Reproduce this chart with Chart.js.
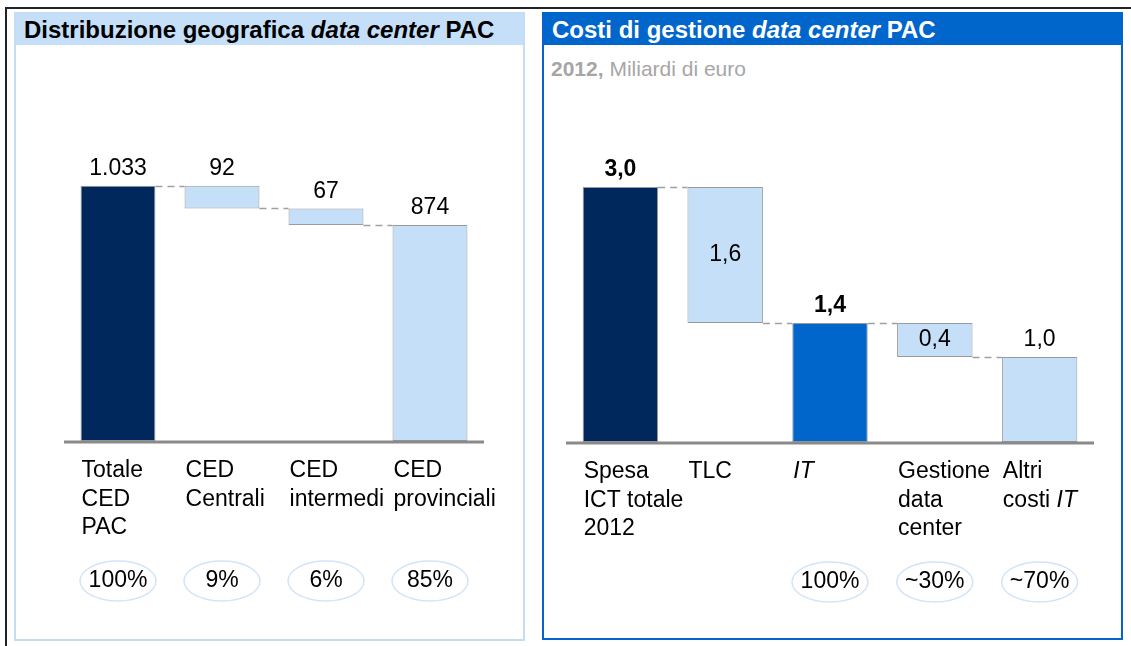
<!DOCTYPE html>
<html>
<head>
<meta charset="utf-8">
<script src="https://cdn.jsdelivr.net/npm/chart.js@4/dist/chart.umd.min.js"></script>
<style>
  body { margin: 0; width: 1131px; height: 646px; background: #fff; position: relative; overflow: hidden;
         font-family: "Liberation Sans", Arial, sans-serif; }
  .frame { position: absolute; left: 5px; top: 7px; right: -10px; bottom: -10px;
           border-top: 2px solid #222; border-left: 2px solid #222; }
  .panel { position: absolute; box-sizing: border-box; }
  #geoPanel { left: 14px; top: 12px; width: 511px; height: 629px; border: 2px solid #c6dcf5; }
  #costPanel { left: 542px; top: 12px; width: 581px; height: 628px; border: 2px solid #0066cc; }
  .head { position: absolute; left: 0; top: 0; right: 0; height: 31px; font-weight: bold; font-size: 24px;
          line-height: 31px; padding-left: 8px; letter-spacing: 0; white-space: nowrap; }
  #geoPanel .head { background: #c6dff8; color: #000; }
  #costPanel .head { background: #0066cc; color: #fff; }
  .sub { position: absolute; left: 7px; top: 43px; font-size: 21px; color: #a6a6a6; }
  canvas { position: absolute; }
</style>
</head>
<body>
<div class="frame"></div>
<div class="panel" id="geoPanel">
  <div class="head">Distribuzione geografica <i>data center</i> PAC</div>
</div>
<div class="panel" id="costPanel">
  <div class="head">Costi di gestione <i>data center</i> PAC</div>
  <div class="sub"><b>2012,</b> Miliardi di euro</div>
</div>
<canvas id="geoChart" width="511" height="595" style="left:14px;top:45px"></canvas>
<canvas id="costChart" width="580" height="594" style="left:542px;top:45px"></canvas>

<script>
// ---- data ----
const geoCategories = [["Totale", "CED", "PAC"], ["CED", "Centrali"], ["CED", "intermedi"], ["CED", "provinciali"]];
const geoValues = [1033, 92, 67, 874];
const geoKinds = ["total", "step", "step", "total"];
const geoShares = ["100%", "9%", "6%", "85%"];

const costCategories = [["Spesa", "ICT totale", "2012"], ["TLC"], ["*IT*"], ["Gestione", "data", "center"], ["Altri", "costi *IT*"]];
const costValues = [3.0, 1.6, 1.4, 0.4, 1.0];
const costKinds = ["total", "step", "total", "step", "total"];
const costShares = [null, null, "100%", "~30%", "~70%"];

// styles
const geoColors = ["#00285c", "#c6dff8", "#c6dff8", "#c6dff8"];
const costColors = ["#00285c", "#c6dff8", "#0066cc", "#c6dff8", "#c6dff8"];
const costLabelPos = ["above", "inside", "above", "inside", "above"];
const costLabelBold = [true, false, true, false, false];

const FONT = '"Liberation Sans", Arial, sans-serif';

// turn values into floating [from, to] ranges
function waterfall(values, kinds) {
  let level = 0;
  return values.map((v, i) => {
    if (kinds[i] === "total") { level = v; return [0, v]; }
    const r = [level - v, level];
    level -= v;
    return r;
  });
}

function fmtThousands(v) {
  return String(v).replace(/\B(?=(\d{3})+(?!\d))/g, ".");
}
function fmtDecimal(v) {
  return v.toFixed(1).replace(".", ",");
}

function drawRich(ctx, text, x, y, size) {
  const parts = text.split("*");
  let cx = x;
  parts.forEach((p, k) => {
    if (!p) return;
    ctx.font = (k % 2 ? "italic " : "") + size + "px " + FONT;
    ctx.fillText(p, cx, y);
    cx += ctx.measureText(p).width;
  });
}

const extras = {
  id: "extras",
  afterDatasetsDraw(chart, args, opts) {
    const ctx = chart.ctx;
    const meta = chart.getDatasetMeta(0);
    const ys = chart.scales.y;
    const area = chart.chartArea;
    const ranges = chart.data.datasets[0].data;
    const base = ys.getPixelForValue(0);
    ctx.save();

    // dashed connectors
    ctx.strokeStyle = "#a0a0a0";
    ctx.lineWidth = 1.5;
    ctx.setLineDash([7, 5]);
    for (let i = 0; i < ranges.length - 1; i++) {
      const a = meta.data[i], b = meta.data[i + 1];
      const lvl = opts.kinds[i] === "total" ? ranges[i][1] : ranges[i][0];
      const y = Math.round(ys.getPixelForValue(lvl)) + 0.5;
      ctx.beginPath();
      ctx.moveTo(a.x + a.width / 2, y);
      ctx.lineTo(b.x - b.width / 2, y);
      ctx.stroke();
    }
    ctx.setLineDash([]);

    // baseline
    ctx.strokeStyle = "#8a8a8a";
    ctx.lineWidth = 3;
    ctx.beginPath();
    ctx.moveTo(area.left - 2, base + 1);
    ctx.lineTo(area.right + 2, base + 1);
    ctx.stroke();

    // value labels
    ctx.fillStyle = "#000";
    ctx.textAlign = "center";
    ctx.textBaseline = "middle";
    opts.values.forEach((v, i) => {
      const bar = meta.data[i];
      const top = ys.getPixelForValue(ranges[i][1]);
      const bot = ys.getPixelForValue(ranges[i][0]);
      ctx.font = (opts.bold[i] ? "bold " : "") + "23px " + FONT;
      const y = opts.pos[i] === "inside" ? (top + bot) / 2 : top - 17;
      ctx.fillText(opts.fmt(v), bar.x, y);
    });

    // category labels
    ctx.textAlign = "left";
    opts.categories.forEach((lines, i) => {
      const bar = meta.data[i];
      lines.forEach((ln, k) => drawRich(ctx, ln, bar.x - bar.width / 2 + 1, base + 30 + k * 28.5, 23));
    });

    // share ellipses
    opts.shares.forEach((s, i) => {
      if (!s) return;
      const bar = meta.data[i];
      const cy = base + 140;
      ctx.strokeStyle = "#d2e4f8";
      ctx.lineWidth = 1.5;
      ctx.beginPath();
      ctx.ellipse(bar.x, cy, 38, 20, 0, 0, Math.PI * 2);
      ctx.stroke();
      ctx.textAlign = "center";
      ctx.font = "23px " + FONT;
      ctx.fillText(s, bar.x, cy);
    });
    ctx.restore();
  }
};

function buildWaterfall(id, cfg) {
  return new Chart(document.getElementById(id), {
    type: "bar",
    data: {
      labels: cfg.categories.map(c => c.join(" ")),
      datasets: [{
        data: waterfall(cfg.values, cfg.kinds),
        backgroundColor: cfg.colors,
        borderColor: "#9a9a9a",
        borderWidth: 1,
        borderSkipped: false,
        barPercentage: 0.72,
        categoryPercentage: 1
      }]
    },
    options: {
      responsive: false,
      animation: false,
      layout: { padding: cfg.padding },
      plugins: {
        legend: { display: false },
        tooltip: { enabled: false },
        extras: {
          values: cfg.values, kinds: cfg.kinds, categories: cfg.categories, shares: cfg.shares,
          fmt: cfg.fmt, pos: cfg.pos, bold: cfg.bold
        }
      },
      scales: {
        x: { display: false },
        y: { display: false, min: 0, max: cfg.max }
      }
    },
    plugins: [extras]
  });
}

buildWaterfall("geoChart", {
  categories: geoCategories, values: geoValues, kinds: geoKinds, shares: geoShares,
  colors: geoColors, fmt: fmtThousands,
  pos: geoValues.map(() => "above"), bold: geoValues.map(() => false),
  max: 1400, padding: { left: 52, right: 43, top: 50, bottom: 199 }
});

buildWaterfall("costChart", {
  categories: costCategories, values: costValues, kinds: costKinds, shares: costShares,
  colors: costColors, fmt: fmtDecimal, pos: costLabelPos, bold: costLabelBold,
  max: 4.0, padding: { left: 26, right: 30, top: 57, bottom: 197 }
});
</script>
</body>
</html>
